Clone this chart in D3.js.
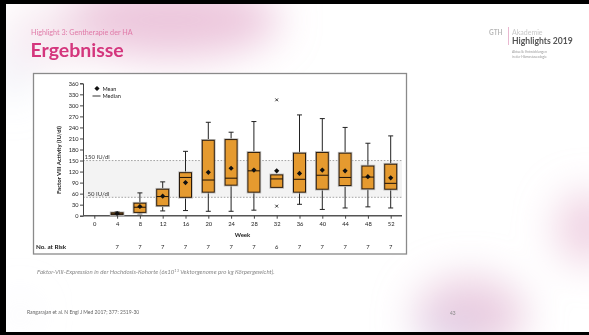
<!DOCTYPE html>
<html>
<head>
<meta charset="utf-8">
<script src="https://cdn.jsdelivr.net/npm/d3@7"></script>
<style>
  html, body { margin: 0; padding: 0; background: #fff; }
  svg { display: block; }
</style>
</head>
<body>
<script>
// Factor VIII activity per visit week (IU/dl), high-dose cohort
const weeks   = [4, 8, 12, 16, 20, 24, 28, 32, 36, 40, 44, 48, 52];
const mins    = [1, 5, 13, 14, 12, 12, 15, 77, 31, 17, 21, 24, 21];
const q1s     = [3, 9, 27, 50, 64, 83, 64, 77, 64, 72, 82, 73, 72];
const medians = [5, 23, 52, 104, 97, 102, 122, 100, 99, 110, 104, 105, 88];
const q3s     = [8, 34, 72, 117, 205, 207, 172, 111, 170, 172, 170, 135, 140];
const maxs    = [11, 62, 92, 175, 254, 227, 256, 111, 274, 264, 240, 197, 217];
const means   = [6, 25, 53, 90, 118, 129, 124, 122, 115, 124, 122, 106, 103];
const outlierWeeks  = [32, 32];
const outlierValues = [315, 26];
const xTicks  = [0, 4, 8, 12, 16, 20, 24, 28, 32, 36, 40, 44, 48, 52];
const yTicks  = [0, 30, 60, 90, 120, 150, 180, 210, 240, 270, 300, 330, 360];
const atRisk  = ["", "7", "7", "7", "7", "7", "7", "7", "6", "7", "7", "7", "7", "7"];
const refLines = [150, 50];

const W = 589, H = 335;
const font = "Lato, 'Open Sans', sans-serif";

const svg = d3.select("body").append("svg").attr("width", W).attr("height", H);
const defs = svg.append("defs");

// soft background blobs
const blur = defs.append("filter").attr("id", "soft").attr("x", "-50%").attr("y", "-50%").attr("width", "200%").attr("height", "200%");
blur.append("feGaussianBlur").attr("stdDeviation", 20);

svg.append("rect").attr("width", W).attr("height", H).attr("fill", "#fff");

const blobs = [
  { cx: 170, cy: 20, rx: 110, ry: 38, c: "#e6b4d0", o: 0.75 },
  { cx: 50, cy: 35, rx: 45, ry: 30, c: "#f0d8e6", o: 0.55 },
  { cx: 12, cy: 75, rx: 15, ry: 25, c: "#d9dcee", o: 0.5 },
  { cx: 470, cy: 315, rx: 55, ry: 38, c: "#e6c0d8", o: 0.8 },
  { cx: 450, cy: 332, rx: 35, ry: 14, c: "#d4d2ec", o: 0.6 },
  { cx: 588, cy: 228, rx: 32, ry: 36, c: "#eac2d8", o: 0.75 },
  { cx: 20, cy: 315, rx: 12, ry: 18, c: "#ececf4", o: 0.4 }
];
svg.append("g").attr("filter", "url(#soft)")
  .selectAll("ellipse").data(blobs).join("ellipse")
  .attr("cx", d => d.cx).attr("cy", d => d.cy)
  .attr("rx", d => d.rx).attr("ry", d => d.ry)
  .attr("fill", d => d.c).attr("opacity", d => d.o);

// slide frame edges
svg.append("rect").attr("x", 0).attr("y", 0).attr("width", W).attr("height", 4).attr("fill", "#000");
svg.append("rect").attr("x", 0).attr("y", 0).attr("width", 6).attr("height", H).attr("fill", "#000");
svg.append("rect").attr("x", 0).attr("y", 332).attr("width", W).attr("height", 3).attr("fill", "#000");

// headings
svg.append("text").attr("x", 31).attr("y", 35).attr("font-family", font).attr("font-size", 7.2)
  .attr("fill", "#e07aa8").text("Highlight 3: Gentherapie der HA");
svg.append("text").attr("x", 30.5).attr("y", 57).attr("font-family", font).attr("font-size", 19.5)
  .attr("font-weight", "bold").attr("fill", "#d4367d").text("Ergebnisse");

// logo block
const logo = svg.append("g").attr("font-family", font);
logo.append("text").attr("x", 489).attr("y", 35).attr("font-size", 6.5).attr("font-weight", "bold").attr("fill", "#b8b8b8").text("GTH");
logo.append("line").attr("x1", 508.5).attr("x2", 508.5).attr("y1", 27).attr("y2", 45).attr("stroke", "#e3a6c4").attr("stroke-width", 0.8);
logo.append("text").attr("x", 512).attr("y", 35).attr("font-size", 7).attr("fill", "#c8c8c8").text("Akademie");
logo.append("text").attr("x", 512).attr("y", 44).attr("font-size", 8.6).attr("font-weight", "bold").attr("fill", "#555").text("Highlights 2019");
logo.append("text").attr("x", 512).attr("y", 53).attr("font-size", 3.4).attr("fill", "#999").text("Aktuelle Entwicklungen");
logo.append("text").attr("x", 512).attr("y", 58).attr("font-size", 3.4).attr("fill", "#999").text("in der Hämostaseologie");

// chart frame
svg.append("rect").attr("x", 33.5).attr("y", 73.5).attr("width", 373).attr("height", 180.5)
  .attr("fill", "#fff").attr("stroke", "#8a8a8a").attr("stroke-width", 1.3);

const x = d3.scaleLinear().domain([0, 52]).range([94.3, 390.7]);
const y = d3.scaleLinear().domain([0, 360]).range([215.7, 83.3]);
const axisLeftX = 83, axisRightX = 402;

const chart = svg.append("g").attr("font-family", font);

// therapeutic band and reference lines
chart.append("rect").attr("x", axisLeftX).attr("y", y(refLines[0]))
  .attr("width", axisRightX - axisLeftX).attr("height", y(refLines[1]) - y(refLines[0]))
  .attr("fill", "#f3f3f3");
chart.selectAll("line.ref").data(refLines).join("line").attr("class", "ref")
  .attr("x1", axisLeftX).attr("x2", axisRightX)
  .attr("y1", d => y(d)).attr("y2", d => y(d))
  .attr("stroke", "#9a9a9a").attr("stroke-width", 0.9).attr("stroke-dasharray", "1.6,1.6");
chart.append("text").attr("x", 84.5).attr("y", y(150) - 1.2).attr("font-size", 6).attr("fill", "#333").text("150 IU/dl");
chart.append("text").attr("x", 87.5).attr("y", y(50) - 1.2).attr("font-size", 6).attr("fill", "#333").text("50 IU/dl");

// axes
const yAxis = chart.append("g").attr("transform", `translate(${axisLeftX},0)`)
  .call(d3.axisLeft(y).tickValues(yTicks).tickSize(3).tickPadding(1.5));
yAxis.select(".domain").attr("stroke", "#444").attr("stroke-width", 1);
yAxis.selectAll(".tick line").attr("stroke", "#444");
yAxis.selectAll(".tick text").attr("font-size", 5.6).attr("font-family", font).attr("fill", "#222");

const xAxis = chart.append("g").attr("transform", `translate(0,${y(0)})`)
  .call(d3.axisBottom(x).tickValues(xTicks).tickSize(3).tickPadding(3.5));
xAxis.select(".domain").attr("d", `M${axisLeftX},0H${axisRightX}`).attr("stroke", "#555").attr("stroke-width", 1.6);
xAxis.selectAll(".tick line").attr("stroke", "#444");
xAxis.selectAll(".tick text").attr("font-size", 5.8).attr("font-family", font).attr("fill", "#222");

chart.append("text").attr("x", (x(0) + x(52)) / 2).attr("y", 236.5).attr("text-anchor", "middle")
  .attr("font-size", 6).attr("font-weight", 700).attr("fill", "#222").text("Week");
chart.append("text").attr("transform", `translate(61,160) rotate(-90)`).attr("text-anchor", "middle")
  .attr("font-size", 6).attr("font-weight", 700).attr("fill", "#222").text("Factor VIII Activity (IU/dl)");

// number at risk row
chart.append("text").attr("x", 36).attr("y", 248.5).attr("font-size", 6.3).attr("font-weight", 700)
  .attr("fill", "#222").text("No. at Risk");
chart.selectAll("text.risk").data(xTicks).join("text").attr("class", "risk")
  .attr("x", d => x(d)).attr("y", 248.5).attr("text-anchor", "middle")
  .attr("font-size", 5.8).attr("fill", "#222").text((d, i) => atRisk[i]);

// mean marker: a square turned 45 degrees
const dr = 2.6;
const diamond = `M0,${-dr}L${dr},0L0,${dr}L${-dr},0Z`;
chart.append("path").attr("d", diamond).attr("transform", "translate(97,88.5)").attr("fill", "#111");
chart.append("text").attr("x", 102.5).attr("y", 90.5).attr("font-size", 5.6).attr("fill", "#222").text("Mean");
chart.append("line").attr("x1", 92.5).attr("x2", 100.5).attr("y1", 96).attr("y2", 96).attr("stroke", "#333").attr("stroke-width", 1);
chart.append("text").attr("x", 102.5).attr("y", 98).attr("font-size", 5.6).attr("fill", "#222").text("Median");

// box plots
const boxW = 12, capW = 5;
const boxes = weeks.map((w, i) => ({
  w, min: mins[i], q1: q1s[i], med: medians[i], q3: q3s[i], max: maxs[i], mean: means[i]
}));
const g = chart.selectAll("g.box").data(boxes).join("g").attr("class", "box")
  .attr("transform", d => `translate(${x(d.w)},0)`);

g.append("line").attr("y1", d => y(d.max)).attr("y2", d => y(d.q3))
  .attr("stroke", "#222").attr("stroke-width", 1);
g.append("line").attr("y1", d => y(d.q1)).attr("y2", d => y(d.min))
  .attr("stroke", "#222").attr("stroke-width", 1);
g.filter(d => d.max > d.q3).append("line").attr("x1", -capW / 2).attr("x2", capW / 2)
  .attr("y1", d => y(d.max)).attr("y2", d => y(d.max)).attr("stroke", "#222").attr("stroke-width", 1);
g.filter(d => d.min < d.q1).append("line").attr("x1", -capW / 2).attr("x2", capW / 2)
  .attr("y1", d => y(d.min)).attr("y2", d => y(d.min)).attr("stroke", "#222").attr("stroke-width", 1);
// soft grey halo around each box
g.append("rect").attr("x", -boxW / 2 - 0.8).attr("width", boxW + 1.6)
  .attr("y", d => y(d.q3) - 0.8).attr("height", d => y(d.q1) - y(d.q3) + 1.6)
  .attr("fill", "none").attr("stroke", "#bdbdbd").attr("stroke-width", 1);
g.append("rect").attr("x", -boxW / 2).attr("width", boxW)
  .attr("y", d => y(d.q3)).attr("height", d => y(d.q1) - y(d.q3))
  .attr("fill", "#e59a2f").attr("stroke", "#2a1a0a").attr("stroke-width", 1);
g.append("line").attr("x1", -boxW / 2).attr("x2", boxW / 2)
  .attr("y1", d => y(d.med)).attr("y2", d => y(d.med)).attr("stroke", "#1a1008").attr("stroke-width", 1);
g.append("path").attr("d", diamond).attr("transform", d => `translate(0,${y(d.mean)})`).attr("fill", "#111");

// outliers
const xs = 1.4;
chart.selectAll("path.out").data(outlierWeeks.map((w, i) => ({ w, v: outlierValues[i] }))).join("path")
  .attr("class", "out")
  .attr("d", d => {
    const cx = x(d.w), cy = y(d.v);
    return `M${cx - xs},${cy - xs}L${cx + xs},${cy + xs}M${cx - xs},${cy + xs}L${cx + xs},${cy - xs}`;
  })
  .attr("stroke", "#222").attr("stroke-width", 0.9);

// caption and footer
const cap = svg.append("text").attr("x", 37).attr("y", 274).attr("font-family", font)
  .attr("font-size", 6.1).attr("font-style", "italic").attr("fill", "#888");
cap.append("tspan").text("Faktor-VIII-Expression in der Hochdosis-Kohorte (6x10");
cap.append("tspan").attr("dy", -2.2).attr("font-size", 4).text("13");
cap.append("tspan").attr("dy", 2.2).text(" Vektorgenome pro kg Körpergewicht).");

svg.append("text").attr("x", 27).attr("y", 314).attr("font-family", font).attr("font-size", 5)
  .attr("fill", "#666").text("Rangarajan et al. N Engl J Med 2017; 377: 2519-30");
svg.append("text").attr("x", 450).attr("y", 315).attr("font-family", font).attr("font-size", 4.8)
  .attr("fill", "#888").text("43");
</script>
</body>
</html>
